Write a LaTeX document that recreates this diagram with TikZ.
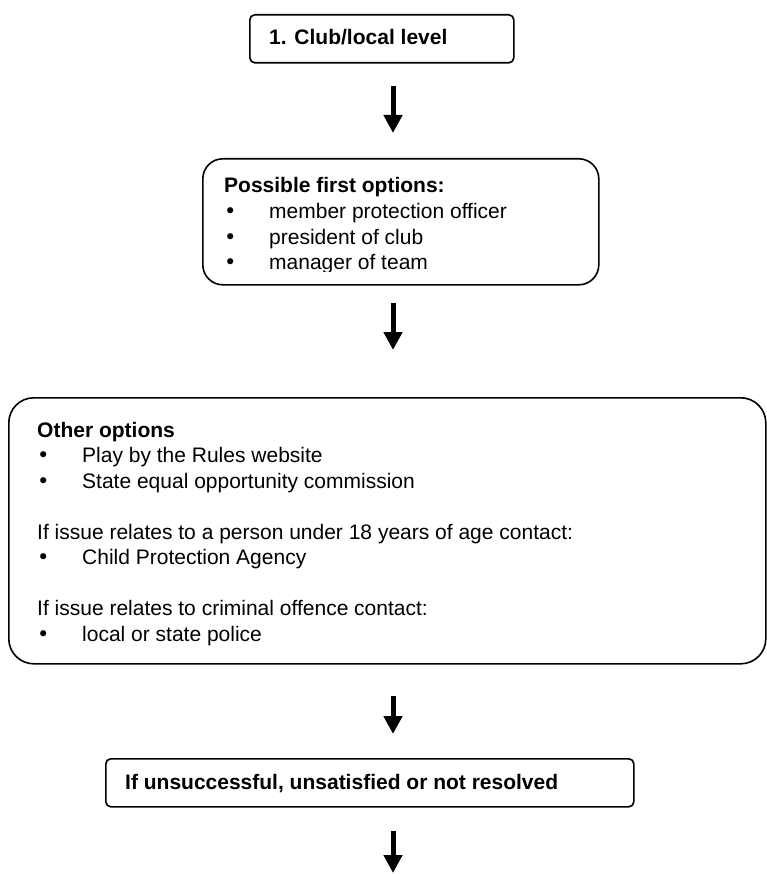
\documentclass[tikz,border=0pt]{standalone}
\usepackage{fontspec}
\setmainfont{Liberation Sans}
\newfontfamily\bulletfont{DejaVu Sans}
\usetikzlibrary{arrows.meta}
\newcommand\bitem[1]{\hbox{\makebox[45pt][l]{\bulletfont •}#1}}
\begin{document}
\begin{tikzpicture}[x=1pt,y=-1pt,
  rbox/.style={draw, line width=1.6pt, inner sep=0pt, anchor=north west},
  txt/.style={anchor=base west, inner sep=0pt, font=\fontsize{21pt}{25.6pt}\selectfont},
  txtb/.style={anchor=base west, inner sep=0pt, font=\fontsize{21pt}{25.5pt}\selectfont},
  arr/.style={line width=5pt, -{Triangle[width=18pt,length=18pt]}}]
\useasboundingbox (0,0) rectangle (766,874);

% Box 1
\node[rbox, rounded corners=5pt, minimum width=264pt, minimum height=48pt] (b1) at (249,14) {};
\node[txt, font=\fontsize{21pt}{25.6pt}\selectfont\bfseries] (t1) at (269,45) {1. Club/local level};

% Box 2
\node[rbox, rounded corners=20pt, minimum width=396pt, minimum height=126pt] (b2) at (202,158) {};
\begin{scope}
\clip (0,0) rectangle (766,271.5);
\node[txt] (t2) at (224,193) {\vtop{%
  \hbox{\bfseries Possible first options:}
  \bitem{member protection officer}
  \bitem{president of club}
  \bitem{manager of team}}};
\end{scope}

% Box 3
\node[rbox, rounded corners=25pt, minimum width=757pt, minimum height=266pt] (b3) at (8,397) {};
\node[txtb] (t3) at (37,437) {\vtop{%
  \hbox{\bfseries Other options}
  \bitem{Play by the Rules website}
  \bitem{State equal opportunity commission}
  \hbox{}
  \hbox{If issue relates to a person under 18 years of age contact:}
  \bitem{Child Protection Agency}
  \hbox{}
  \hbox{If issue relates to criminal offence contact:}
  \bitem{local or state police}}};

% Box 4
\node[rbox, rounded corners=5pt, minimum width=528pt, minimum height=48pt] (b4) at (105,758) {};
\node[txt, font=\fontsize{21pt}{25.6pt}\selectfont\bfseries] (t4) at (125,789) {If unsuccessful, unsatisfied or not resolved};

% Arrows
\coordinate (a1s) at (393,86);  \coordinate (a1e) at (393,133);
\coordinate (a2s) at (393,303); \coordinate (a2e) at (393,350);
\coordinate (a3s) at (393,696); \coordinate (a3e) at (393,734);
\coordinate (a4s) at (393,831); \coordinate (a4e) at (393,873);
\draw[arr] (a1s) -- (a1e);
\draw[arr] (a2s) -- (a2e);
\draw[arr] (a3s) -- (a3e);
\draw[arr] (a4s) -- (a4e);
\end{tikzpicture}
\end{document}
